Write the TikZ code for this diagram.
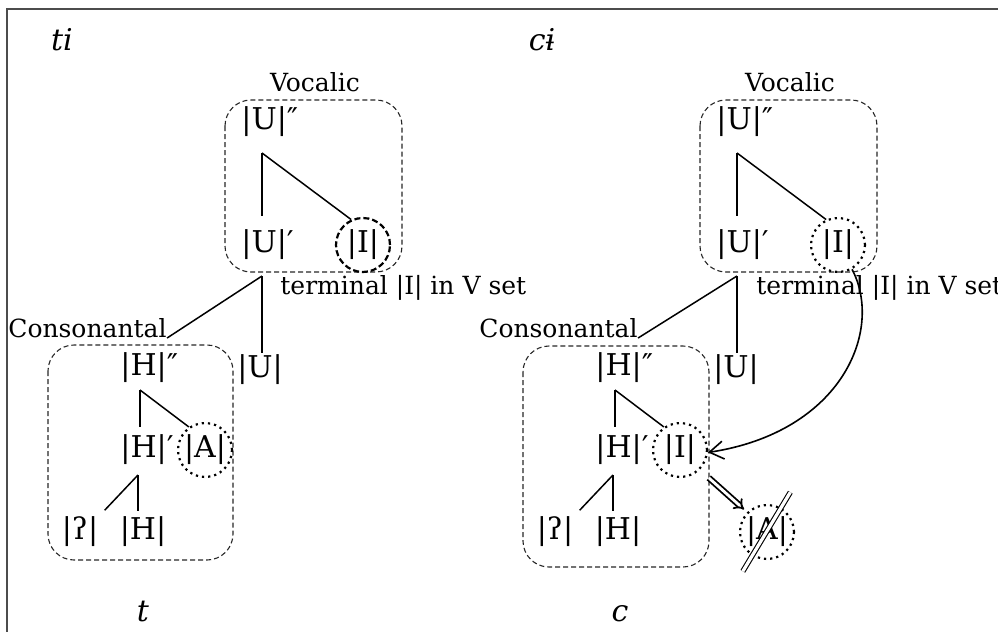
\documentclass[tikz,border=0pt]{standalone}
\usepackage{fontspec}
\setmainfont{DejaVu Serif}
\usetikzlibrary{arrows.meta}

\begin{document}
\begin{tikzpicture}[x=0.5pt,y=-0.5pt,>={Straight Barb[length=7pt,width=9pt]}]
 \tikzstyle{setbox} = [draw=black!85,dash pattern=on 2.5pt off 1.5pt,line width=0.55pt,rounded corners=13pt]
 \tikzstyle{el} = [font=\fontsize{15}{17}\selectfont,inner sep=1pt]
 \tikzstyle{lab} = [font=\fontsize{12.5}{14}\selectfont,inner sep=0pt]
 \tikzstyle{form} = [font=\fontsize{15}{17}\selectfont\itshape,inner sep=0pt]
 \tikzstyle{ring} = [el,circle,draw,dotted,line width=1.1pt,minimum size=27pt,inner sep=0pt]
 \tikzstyle{branch} = [line width=0.75pt]

 \useasboundingbox (0,0) rectangle (998,632);
 \draw[line width=1pt,black!70] (7,632) -- (7,9) -- (998,9);

% ti (left)
 \node[form] (lti) at (62,40) {ti};
 \node[lab] (lvoc) at (315,82) {Vocalic};
 \draw[setbox] (225,100) rectangle (402,272);
 \node[el,anchor=west] (lUvv) at (239,122) {|U|″};
 \node[el,anchor=west] (lUv) at (239,245) {|U|′};
 \node[ring,dotted=false,dash pattern=on 3pt off 1.5pt] (lI) at (363,245) {|I|};
 \coordinate (lv1) at (262,153);
 \draw[branch,shorten >=6pt] (lv1) -- (lv1 |- lUv.north);
 \draw[branch] (lv1) -- (lI.115);

 \node[lab,anchor=west] (lterm) at (280,288) {terminal |I| in V set};
 \node[lab,anchor=east] (lcons) at (167,328) {Consonantal};
 \node[el] (lUb) at (260,370) {|U|};
 \coordinate (lv2) at (262,276);
 \draw[branch] (lv2) -- (lcons.south east);
 \draw[branch] (lv2) -- (lv2 |- lUb.north);

 \draw[setbox] (48,345) rectangle (233,560);
 \node[el,anchor=west] (lHvv) at (118,368) {|H|″};
 \node[el,anchor=west] (lHv) at (118,450) {|H|′};
 \node[ring] (lA) at (205,450) {|A|};
 \coordinate (lc1) at (140,390);
 \draw[branch,shorten >=3pt] (lc1) -- (lc1 |- lHv.north);
 \draw[branch] (lc1) -- (lA.125);
 \node[el] (lgs) at (80,532) {|ʔ|};
 \node[el] (lH) at (143,532) {|H|};
 \coordinate (lc2) at (138,475);
 \draw[branch,shorten >=2pt] (lc2) -- (lc2 |- lH.north);
 \draw[branch,shorten >=3pt] (lc2) -- (lgs.north east);
 \node[form] (lt) at (143,612) {t};

% ci (right)
 \node[form] (rci) at (542,40) {cɨ};
 \node[lab] (rvoc) at (790,82) {Vocalic};
 \draw[setbox] (700,100) rectangle (877,272);
 \node[el,anchor=west] (rUvv) at (714,122) {|U|″};
 \node[el,anchor=west] (rUv) at (714,245) {|U|′};
 \node[ring] (rI) at (838,245) {|I|};
 \coordinate (rv1) at (737,153);
 \draw[branch,shorten >=6pt] (rv1) -- (rv1 |- rUv.north);
 \draw[branch] (rv1) -- (rI.115);

 \node[lab,anchor=west] (rterm) at (756,288) {terminal |I| in V set};
 \node[lab,anchor=east] (rcons) at (638,328) {Consonantal};
 \node[el] (rUb) at (736,370) {|U|};
 \coordinate (rv2) at (737,276);
 \draw[branch] (rv2) -- (rcons.south east);
 \draw[branch] (rv2) -- (rv2 |- rUb.north);

 \draw[setbox] (523,346) rectangle (709,567);
 \node[el,anchor=west] (rHvv) at (593,368) {|H|″};
 \node[el,anchor=west] (rHv) at (593,450) {|H|′};
 \node[ring] (rIc) at (680,450) {|I|};
 \coordinate (rc1) at (615,390);
 \draw[branch,shorten >=3pt] (rc1) -- (rc1 |- rHv.north);
 \draw[branch] (rc1) -- (rIc.125);
 \node[el] (rgs) at (555,532) {|ʔ|};
 \node[el] (rH) at (618,532) {|H|};
 \coordinate (rc2) at (613,475);
 \draw[branch,shorten >=2pt] (rc2) -- (rc2 |- rH.north);
 \draw[branch,shorten >=3pt] (rc2) -- (rgs.north east);
 \node[form] (rc) at (620,614) {c};

% Migration of |I| and loss of |A|
 \draw[->,line width=0.8pt] (rI.-60) .. controls (884,330) and (842,432) .. (rIc.-5);
 \node[ring] (rA) at (767,532) {|A|};
 \draw[double,double distance=1.6pt,line width=0.55pt,shorten <=-9pt,shorten >=-9pt] (rA.238) -- (rA.60);
 \draw[double,double distance=1.4pt,line width=0.9pt,-{Implies},shorten <=6pt,shorten >=2pt] (rIc.-45) -- (rA.135);
\end{tikzpicture}
\end{document}
